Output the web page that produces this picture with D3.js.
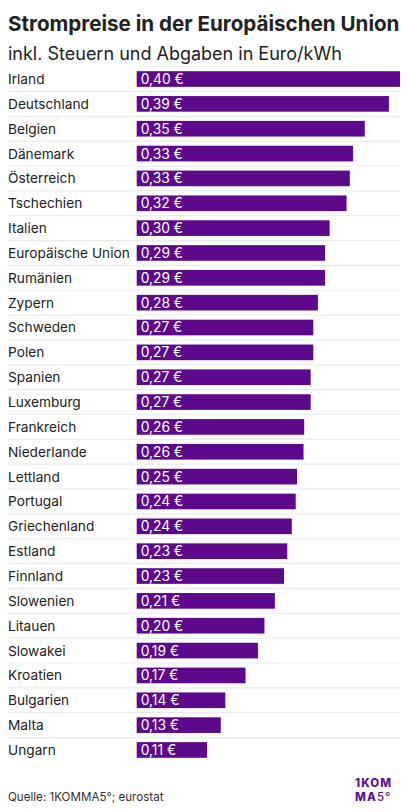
<!DOCTYPE html>
<html lang="de">
<head>
<meta charset="utf-8">
<title>Strompreise in der Europäischen Union</title>
<script src="https://d3js.org/d3.v7.min.js"></script>
<style>
  body { margin:0; background:#fff; font-family:Inter, "Noto Sans", sans-serif; }
  #chart { width:408px; height:812px; }
</style>
</head>
<body>
<div id="chart"></div>
<script>
// Daten (Euro/kWh)
var countries = ["Irland","Deutschland","Belgien","Dänemark","Österreich","Tschechien","Italien",
  "Europäische Union","Rumänien","Zypern","Schweden","Polen","Spanien","Luxemburg","Frankreich",
  "Niederlande","Lettland","Portugal","Griechenland","Estland","Finnland","Slowenien","Litauen",
  "Slowakei","Kroatien","Bulgarien","Malta","Ungarn"]
var prices = [0.404,0.387,0.350,0.332,0.327,0.322,0.296,
  0.289,0.289,0.278,0.271,0.271,0.267,0.267,0.257,
  0.256,0.246,0.244,0.238,0.231,0.226,0.212,0.196,
  0.186,0.167,0.136,0.129,0.108]

var data = countries.map(function(c,i){ return {country:c, price:prices[i]} })

var w = 408, h = 812
var purple = "#5c0a8b"

var svg = d3.select("#chart").append("svg")
  .attr("width",w).attr("height",h)

svg.append("text")
  .attr("x",8).attr("y",31)
  .attr("font-size",20.6).attr("font-weight",700).attr("fill","#222")
  .text("Strompreise in der Europäischen Union")

svg.append("text")
  .attr("x",8).attr("y",60)
  .attr("font-size",18).attr("fill","#222")
  .text("inkl. Steuern und Abgaben in Euro/kWh")

// row scale
var yScale = d3.scaleBand().domain(countries).range([66.6, 762.4]).paddingInner(0.37).paddingOuter(0.185)
var xScale = d3.scaleLinear().domain([0, d3.max(prices)]).range([136.7, 400])

var fmt = function(v){ return d3.format(".2f")(v).replace(".",",") + " €" }

var rows = svg.selectAll("g.row").data(data).enter().append("g").attr("class","row")

// separator lines
rows.filter(function(d,i){ return i < data.length-1 })
  .append("line")
  .attr("x1",8).attr("x2",400)
  .attr("y1",function(d){ return yScale(d.country) + yScale.bandwidth() + yScale.step()*yScale.paddingInner()/2 })
  .attr("y2",function(d){ return yScale(d.country) + yScale.bandwidth() + yScale.step()*yScale.paddingInner()/2 })
  .attr("stroke","#ececec").attr("stroke-width",1.2)

rows.append("text")
  .attr("x",8)
  .attr("y",function(d){ return yScale(d.country) + yScale.bandwidth()/2 })
  .attr("dy","0.36em")
  .attr("font-size",13.7).attr("fill","#222")
  .text(function(d){ return d.country })

rows.append("rect")
  .attr("x",xScale(0))
  .attr("y",function(d){ return yScale(d.country) })
  .attr("width",function(d){ return xScale(d.price) - xScale(0) })
  .attr("height",yScale.bandwidth())
  .attr("fill",purple)

rows.append("text")
  .attr("x",xScale(0)+4)
  .attr("y",function(d){ return yScale(d.country) + yScale.bandwidth()/2 })
  .attr("dy","0.36em")
  .attr("font-size",13.8).attr("fill","#fff")
  .text(function(d){ return fmt(d.price) })

// footer
svg.append("text")
  .attr("x",8).attr("y",801)
  .attr("font-size",11.6).attr("fill","#333")
  .text("Quelle: 1KOMMA5°; eurostat")

var logo = svg.append("g").attr("fill","#5f1196").attr("font-size",11.5).attr("font-weight",800)
logo.append("text").attr("x",355).attr("y",787).attr("letter-spacing",1.1).text("1KOM")
var l2 = logo.append("text").attr("x",355).attr("y",800.5).attr("letter-spacing",1.1)
l2.append("tspan").text("MA")
l2.append("tspan").attr("font-weight",500).text("5°")
</script>
</body>
</html>
